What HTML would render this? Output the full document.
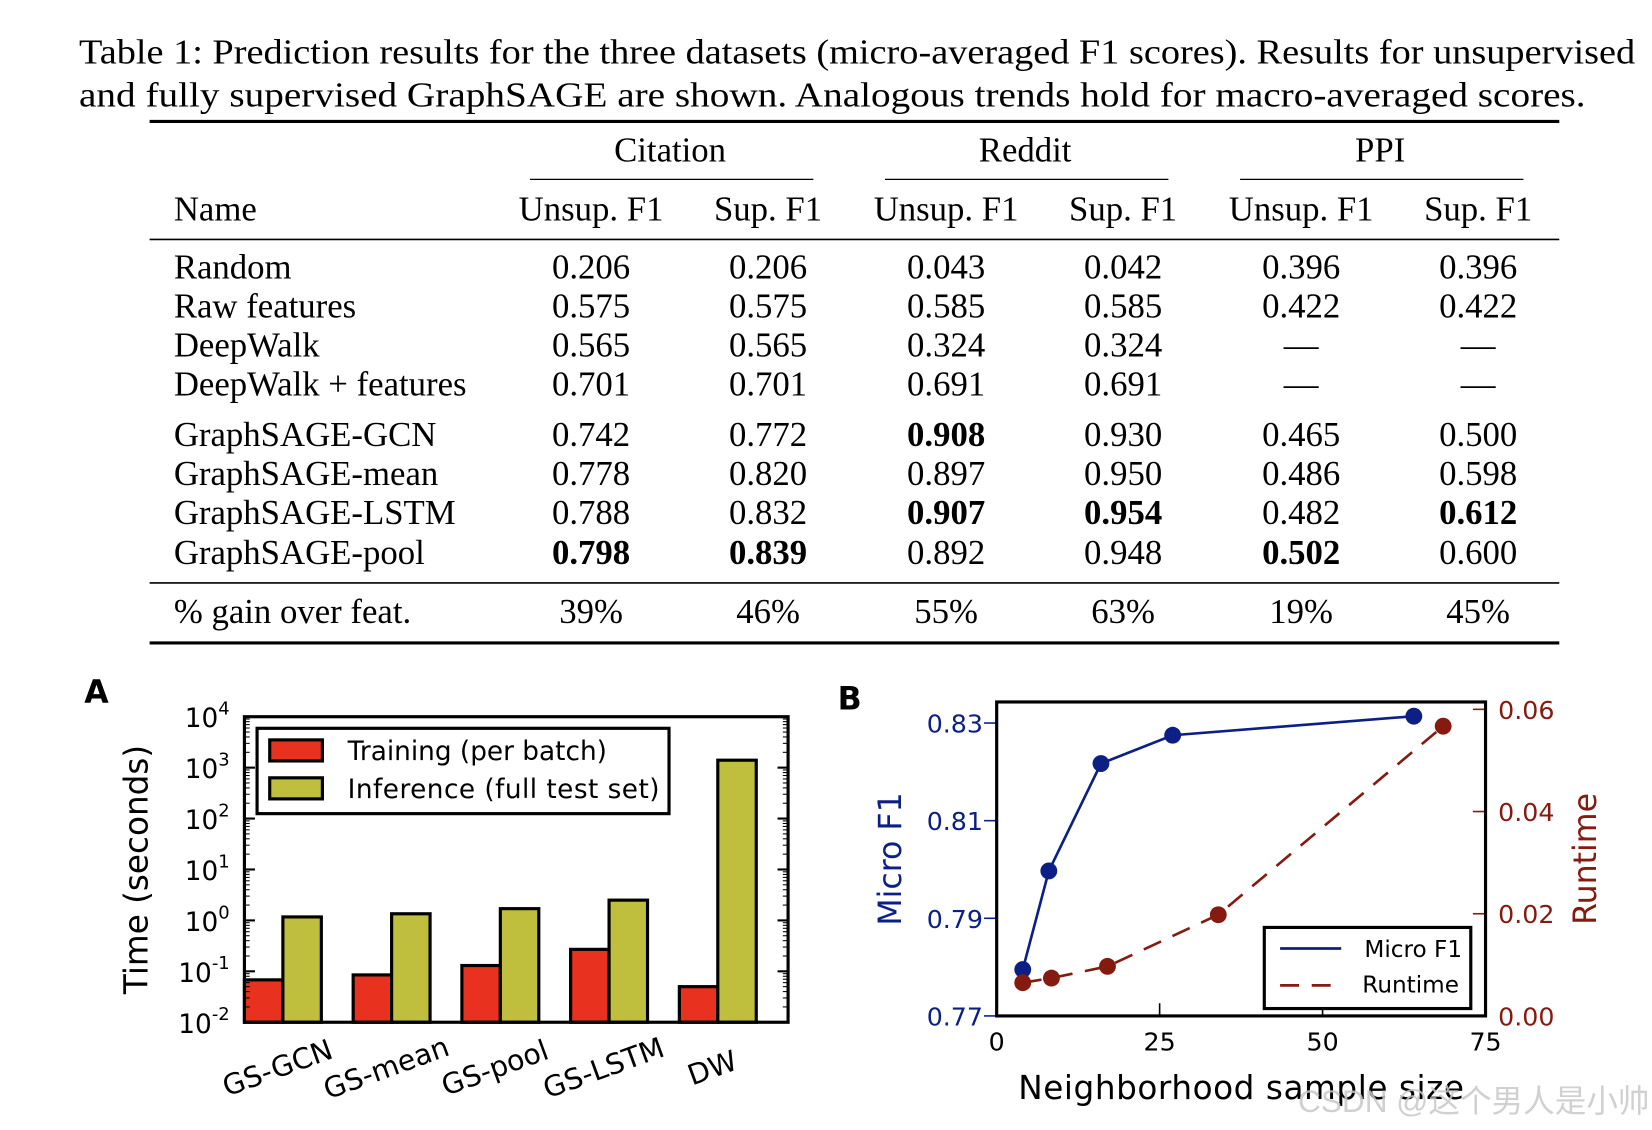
<!DOCTYPE html>
<html><head><meta charset="utf-8">
<style>
html,body{margin:0;padding:0;background:#fff;}
svg{display:block;}
.serif{font-family:"Liberation Serif","Noto Serif CJK SC",serif;font-size:33px;fill:#000;}
</style></head>
<body>
<svg id="root" width="1652" height="1130" viewBox="0 0 1568 1072" xmlns="http://www.w3.org/2000/svg">
<g id="table">
<text class="serif" x="75" y="60" textLength="1477" lengthAdjust="spacingAndGlyphs">Table 1: Prediction results for the three datasets (micro-averaged F1 scores). Results for unsupervised</text>
<text class="serif" x="75" y="101" textLength="1430" lengthAdjust="spacingAndGlyphs">and fully supervised GraphSAGE are shown. Analogous trends hold for macro-averaged scores.</text>
<line x1="142" x2="1480" y1="115" y2="115" stroke="#000" stroke-width="3"/>
<line x1="142" x2="1480" y1="227" y2="227" stroke="#000" stroke-width="1.5"/>
<line x1="142" x2="1480" y1="553" y2="553" stroke="#000" stroke-width="1.5"/>
<line x1="142" x2="1480" y1="610" y2="610" stroke="#000" stroke-width="3"/>
</g>

<g id="chartA"></g>
<g id="chartB"></g>
<text x="1232" y="1055" font-family="'Liberation Sans','Noto Sans CJK SC',sans-serif" font-size="30" fill="#c8c8c8" opacity="0.85">CSDN @这个男人是小帅</text>
</svg>
<script>
const NS='http://www.w3.org/2000/svg';
function mk(parent,tag,attrs,text){const e=document.createElementNS(NS,tag);for(const k in attrs)e.setAttribute(k,attrs[k]);if(text!==undefined)e.textContent=text;parent.appendChild(e);return e;}

// ---------- TABLE ----------
const groupHeaders=['Citation','Reddit','PPI'];
const colHeaders=['Unsup. F1','Sup. F1','Unsup. F1','Sup. F1','Unsup. F1','Sup. F1'];
const rowNames=['Random','Raw features','DeepWalk','DeepWalk + features','GraphSAGE-GCN','GraphSAGE-mean','GraphSAGE-LSTM','GraphSAGE-pool'];
const rowValues=[
['0.206','0.206','0.043','0.042','0.396','0.396'],
['0.575','0.575','0.585','0.585','0.422','0.422'],
['0.565','0.565','0.324','0.324','—','—'],
['0.701','0.701','0.691','0.691','—','—'],
['0.742','0.772','*0.908','0.930','0.465','0.500'],
['0.778','0.820','0.897','0.950','0.486','0.598'],
['0.788','0.832','*0.907','*0.954','0.482','*0.612'],
['*0.798','*0.839','0.892','0.948','*0.502','0.600']];
const gainValues=['39%','46%','55%','63%','19%','45%'];
const T=document.getElementById('table');
const colX=[561,729,898,1066,1235,1403];
const rowY=[264,301,338,375,423,460,497,535];
groupHeaders.forEach((g,i)=>{
  const t=mk(T,'text',{class:'serif',x:[636,973,1310][i],y:153,'text-anchor':'middle'},g);
  
  
  const l=mk(T,'line',{x1:[503,840,1177][i],x2:[772,1109,1446][i],y1:170,y2:170,stroke:'#000','stroke-width':1.2});
  
  
});
const nh=mk(T,'text',{class:'serif',x:165,y:209},'Name');


colHeaders.forEach((h,i)=>{
  const t=mk(T,'text',{class:'serif',x:colX[i],y:209,'text-anchor':'middle'},h);
  
  
});
rowNames.forEach((n,r)=>{
  const t=mk(T,'text',{class:'serif',x:165,y:rowY[r]},n);
  
  
  rowValues[r].forEach((v,i)=>{
    const bold=v[0]==='*';
    const c=mk(T,'text',{class:'serif',x:colX[i],y:rowY[r],'text-anchor':'middle','font-weight':bold?'bold':'normal'},bold?v.slice(1):v);
    
    
  });
});
const gn=mk(T,'text',{class:'serif',x:165,y:591},'% gain over feat.');


gainValues.forEach((v,i)=>{
  const t=mk(T,'text',{class:'serif',x:colX[i],y:591,'text-anchor':'middle'},v);
  
  
});

// ---------- CHART A ----------
const aCategories=['GS-GCN','GS-mean','GS-pool','GS-LSTM','DW'];
const aTraining=[0.068,0.085,0.13,0.27,0.05];
const aInference=[1.17,1.35,1.7,2.5,1400];
const aTickExp=[-2,-1,0,1,2,3,4];
(function(){
  const G=document.getElementById('chartA');
  const L=232,R=748,Tp=680,B=970;
  const y=v=>B-(Math.log10(v)+2)/6*(B-Tp);
  const gw=(R-L)/5, bw=36.5;
  const ff='DejaVu Sans,Liberation Sans,sans-serif';
  const A=mk(G,'text',{x:80,y:667,'font-family':ff,'font-weight':'bold','font-size':30},'A');
  
  
  aCategories.forEach((c,i)=>{
    const x0=L+i*gw;
    const r=mk(G,'rect',{x:x0,y:y(aTraining[i]),width:bw,height:B-y(aTraining[i]),fill:'#e8321f',stroke:'#000','stroke-width':3});
    
    
    const g=mk(G,'rect',{x:x0+bw,y:y(aInference[i]),width:bw,height:B-y(aInference[i]),fill:'#bfbf3d',stroke:'#000','stroke-width':3});
    
    
    const cx=x0+bw-2, cy=1022;
    const t=mk(G,'text',{x:cx,y:cy,'text-anchor':'middle','font-family':ff,'font-size':27,transform:`rotate(-20 ${cx} ${cy})`},c);
    
    
  });
  aTickExp.forEach(e=>{
    const yy=y(Math.pow(10,e));
    mk(G,'line',{x1:L,x2:L+10,y1:yy,y2:yy,stroke:'#000','stroke-width':2});
    mk(G,'line',{x1:R,x2:R-10,y1:yy,y2:yy,stroke:'#000','stroke-width':2});
    const t=mk(G,'text',{x:218,y:yy+10,'text-anchor':'end','font-family':ff,'font-size':25},'10');
    mk(t,'tspan',{dy:-12,'font-size':17},String(e));
    
    
    if(e<4){for(let k=2;k<10;k++){const ym=y(k*Math.pow(10,e));
      mk(G,'line',{x1:L,x2:L+5,y1:ym,y2:ym,stroke:'#000','stroke-width':1});
      mk(G,'line',{x1:R,x2:R-5,y1:ym,y2:ym,stroke:'#000','stroke-width':1});}}
  });
  const fr=mk(G,'rect',{x:L,y:Tp,width:R-L,height:B-Tp,fill:'none',stroke:'#000','stroke-width':3});
  
  
  const yl=mk(G,'text',{x:140,y:825,'text-anchor':'middle','font-family':ff,'font-size':31,transform:'rotate(-90 140 825)'},'Time (seconds)');
  
  
  const lg=mk(G,'g',{});
  
  
  mk(lg,'rect',{x:244,y:691,width:391,height:81,fill:'#fff',stroke:'#000','stroke-width':3});
  const e1=mk(lg,'rect',{x:256,y:702,width:50,height:20,fill:'#e8321f',stroke:'#000','stroke-width':3});
  
  
  const e2=mk(lg,'rect',{x:256,y:738,width:50,height:20,fill:'#bfbf3d',stroke:'#000','stroke-width':3});
  
  
  const t1=mk(lg,'text',{x:330,y:721,'font-family':ff,'font-size':25},'Training (per batch)');
  
  
  const t2=mk(lg,'text',{x:330,y:757,'font-family':ff,'font-size':25,textLength:296},'Inference (full test set)');
  
  
})();

// ---------- CHART B ----------
const bF1X=[4,8,16,27,64];
const bF1Y=[0.7795,0.7997,0.8217,0.8275,0.8314];
const bRtX=[4,8.4,17,34,68.5];
const bRtY=[0.0065,0.0074,0.0097,0.0198,0.0567];
const bXTicks=[0,25,50,75];
const bLeftTicks=[0.77,0.79,0.81,0.83];
const bRightTicks=[0.00,0.02,0.04,0.06];
(function(){
  const G=document.getElementById('chartB');
  const L=946,R=1410,Tp=666,B=964;
  const blue='#0c1f84',red='#851b10';
  const x=v=>L+v/75*(R-L);
  const yl=v=>B-(v-0.77)/0.02*((B-686)/3);
  const yr=v=>B-v/0.02*((B-673)/3);
  const ff='DejaVu Sans,Liberation Sans,sans-serif';
  const lab=mk(G,'text',{x:795,y:673,'font-family':ff,'font-weight':'bold','font-size':30},'B');
  
  
  bLeftTicks.forEach(v=>{const yy=yl(v);
    mk(G,'line',{x1:L-12,x2:L,y1:yy,y2:yy,stroke:blue,'stroke-width':1.5});
    const t=mk(G,'text',{x:933,y:yy+9,'text-anchor':'end','font-family':ff,'font-size':24,fill:blue},v.toFixed(2));
    
    });
  bRightTicks.forEach(v=>{const yy=yr(v);
    mk(G,'line',{x1:R-12,x2:R,y1:yy,y2:yy,stroke:red,'stroke-width':1.5});
    const t=mk(G,'text',{x:1422,y:yy+9,'font-family':ff,'font-size':24,fill:red},v.toFixed(2));
    
    });
  bXTicks.forEach(v=>{const xx=x(v);
    mk(G,'line',{x1:xx,x2:xx,y1:B,y2:B-12,stroke:'#000','stroke-width':1.5});
    const t=mk(G,'text',{x:xx,y:997,'text-anchor':'middle','font-family':ff,'font-size':24},String(v));
    
    });
  const fp=bF1X.map((v,i)=>x(v)+','+yl(bF1Y[i])).join(' ');
  const l1=mk(G,'polyline',{points:fp,fill:'none',stroke:blue,'stroke-width':2.5});
  
  
  const rp=bRtX.map((v,i)=>x(v)+','+yr(bRtY[i])).join(' ');
  const l2=mk(G,'polyline',{points:rp,fill:'none',stroke:red,'stroke-width':2.5,'stroke-dasharray':'18,12'});
  
  
  bF1X.forEach((v,i)=>{const c=mk(G,'circle',{cx:x(v),cy:yl(bF1Y[i]),r:8,fill:blue});
    
    });
  bRtX.forEach((v,i)=>{const c=mk(G,'circle',{cx:x(v),cy:yr(bRtY[i]),r:8,fill:red});
    
    });
  const fr=mk(G,'rect',{x:L,y:Tp,width:R-L,height:B-Tp,fill:'none',stroke:'#000','stroke-width':3});
  
  
  const lg=mk(G,'g',{});
  
  
  mk(lg,'rect',{x:1200,y:880,width:196,height:77,fill:'#fff',stroke:'#000','stroke-width':3});
  mk(lg,'line',{x1:1215,x2:1273,y1:900,y2:900,stroke:blue,'stroke-width':2.5});
  mk(lg,'line',{x1:1215,x2:1273,y1:935,y2:935,stroke:red,'stroke-width':2.5,'stroke-dasharray':'18,12'});
  const a=mk(lg,'text',{x:1295,y:908,'font-family':ff,'font-size':22},'Micro F1');
  
  
  const b=mk(lg,'text',{x:1293,y:942,'font-family':ff,'font-size':22},'Runtime');
  
  
  const xt=mk(G,'text',{x:1178,y:1043,'text-anchor':'middle','font-family':ff,'font-size':31,textLength:423},'Neighborhood sample size');
  
  
  const y1=mk(G,'text',{x:855,y:815,'text-anchor':'middle','font-family':ff,'font-size':30,fill:blue,transform:'rotate(-90 855 815)'},'Micro F1');
  
  
  const y2=mk(G,'text',{x:1515,y:815,'text-anchor':'middle','font-family':ff,'font-size':30,fill:red,transform:'rotate(-90 1515 815)'},'Runtime');
  
  
})();
</script>
</body></html>
